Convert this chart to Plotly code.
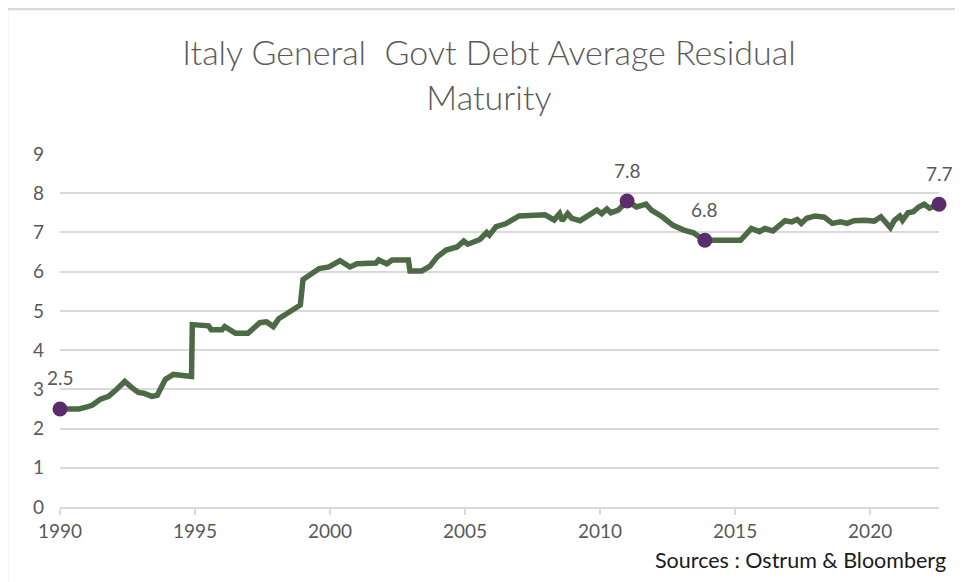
import plotly.graph_objects as go

# Data (decimal years, years of residual maturity)
years = [1990.0, 1990.7, 1991.0, 1991.2, 1991.5, 1991.8, 1992.1, 1992.4, 1992.65, 1992.9,
         1993.1, 1993.4, 1993.6, 1993.75, 1993.9, 1994.2, 1994.5, 1994.87, 1994.9, 1995.5,
         1995.6, 1996.0, 1996.1, 1996.25, 1996.5, 1996.96, 1997.2, 1997.4, 1997.65, 1997.9,
         1998.1, 1998.4, 1998.7, 1998.9, 1999.0, 1999.3, 1999.6, 1999.96, 2000.37, 2000.74,
         2001.0, 2001.7, 2001.8, 2002.1, 2002.3, 2002.9, 2002.96, 2003.4, 2003.7, 2003.96,
         2004.3, 2004.7, 2004.95, 2005.1, 2005.55, 2005.8, 2005.9, 2006.15, 2006.5, 2006.7,
         2007.0, 2007.96, 2008.3, 2008.5, 2008.6, 2008.8, 2008.95, 2009.26, 2009.5, 2009.88,
         2010.06, 2010.25, 2010.4, 2010.67, 2011.0, 2011.35, 2011.7, 2011.9, 2012.3, 2012.7,
         2013.1, 2013.46, 2013.7, 2013.88, 2015.2, 2015.45, 2015.6, 2015.9, 2016.1, 2016.4,
         2016.6, 2016.85, 2017.1, 2017.3, 2017.45, 2017.65, 2017.96, 2018.3, 2018.6, 2018.9,
         2019.15, 2019.4, 2019.8, 2020.15, 2020.4, 2020.6, 2020.75, 2020.9, 2021.1, 2021.2,
         2021.4, 2021.6, 2021.8, 2022.0, 2022.2, 2022.55]
maturity = [2.5, 2.5, 2.55, 2.6, 2.75, 2.82, 3.0, 3.2, 3.05, 2.92,
            2.9, 2.82, 2.85, 3.05, 3.25, 3.38, 3.35, 3.33, 4.65, 4.62,
            4.52, 4.52, 4.6, 4.52, 4.43, 4.43, 4.58, 4.7, 4.72, 4.6,
            4.8, 4.92, 5.05, 5.15, 5.8, 5.95, 6.08, 6.12, 6.28, 6.12,
            6.2, 6.22, 6.3, 6.2, 6.3, 6.3, 6.02, 6.02, 6.14, 6.37,
            6.55, 6.63, 6.78, 6.7, 6.82, 7.0, 6.93, 7.15, 7.22, 7.3,
            7.42, 7.45, 7.32, 7.48, 7.3, 7.48, 7.36, 7.3, 7.42, 7.57,
            7.48, 7.6, 7.5, 7.57, 7.8, 7.65, 7.72, 7.57, 7.4, 7.18,
            7.06, 6.99, 6.87, 6.8, 6.8, 7.02, 7.1, 7.02, 7.1, 7.04,
            7.14, 7.3, 7.27, 7.33, 7.23, 7.36, 7.42, 7.39, 7.23, 7.27,
            7.23, 7.3, 7.31, 7.29, 7.4, 7.23, 7.12, 7.31, 7.42, 7.31,
            7.5, 7.53, 7.65, 7.72, 7.62, 7.72]

# Highlighted points
mark_years = [1990.0, 2011.0, 2013.88, 2022.55]
mark_values = [2.5, 7.8, 6.8, 7.72]
mark_labels = ["2.5", "7.8", "6.8", "7.7"]

x_ticks = [1990, 1995, 2000, 2005, 2010, 2015, 2020]
y_ticks = list(range(0, 10))

FONT = "Lato"
GRAY = "#595959"
GRID = "#d9d9d9"

fig = go.Figure()
fig.add_trace(go.Scatter(
    x=years, y=maturity, mode="lines",
    line=dict(color="#4b6a45", width=5.5),
    hoverinfo="skip", showlegend=False,
))
fig.add_trace(go.Scatter(
    x=mark_years, y=mark_values, mode="markers",
    marker=dict(color="#5a2b6d", size=15),
    showlegend=False, cliponaxis=False,
))

for xv, yv, lab in zip(mark_years, mark_values, mark_labels):
    fig.add_annotation(x=xv, y=yv, text=lab, showarrow=False, yshift=31,
                       font=dict(family=FONT, size=19, color=GRAY))

fig.add_annotation(xref="paper", yref="paper", x=1.0102, y=-0.15, xanchor="right",
                   yanchor="middle", showarrow=False,
                   text="Sources : Ostrum & Bloomberg",
                   font=dict(family=FONT, size=21.5, color="#1a1a1a"))

# outer chart frame
fig.add_shape(type="rect", xref="paper", yref="paper",
              x0=-0.0603, x1=1.05, y0=-0.3, y1=1.4108,
              line=dict(color="#d9d9d9", width=2.5), layer="below")

fig.update_layout(
    width=955, height=574,
    margin=dict(l=52, r=24, t=146, b=75),
    paper_bgcolor="white", plot_bgcolor="white",
    title=dict(text="Italy General  Govt Debt Average Residual<br>Maturity",
               x=0.488, xref="paper", xanchor="center",
               y=0.9, yref="container", yanchor="middle",
               font=dict(family=FONT, size=34, color=GRAY, weight=300)),
    font=dict(family=FONT, color=GRAY),
)
fig.update_xaxes(range=[1990, 2022.55], tickvals=x_ticks,
                 ticktext=[str(t) for t in x_ticks],
                 showgrid=False, zeroline=False,
                 showline=True, linecolor=GRID, linewidth=2,
                 ticks="outside", tickcolor=GRID, ticklen=6, tickwidth=1.5,
                 tickfont=dict(family=FONT, size=19, color=GRAY))
fig.update_yaxes(range=[0, 9], tickvals=y_ticks,
                 showgrid=True, gridcolor=GRID, gridwidth=2,
                 zeroline=False, showline=False, ticks="",
                 ticklabelstandoff=15,
                 tickfont=dict(family=FONT, size=19, color=GRAY))

fig.write_html("out.html")
